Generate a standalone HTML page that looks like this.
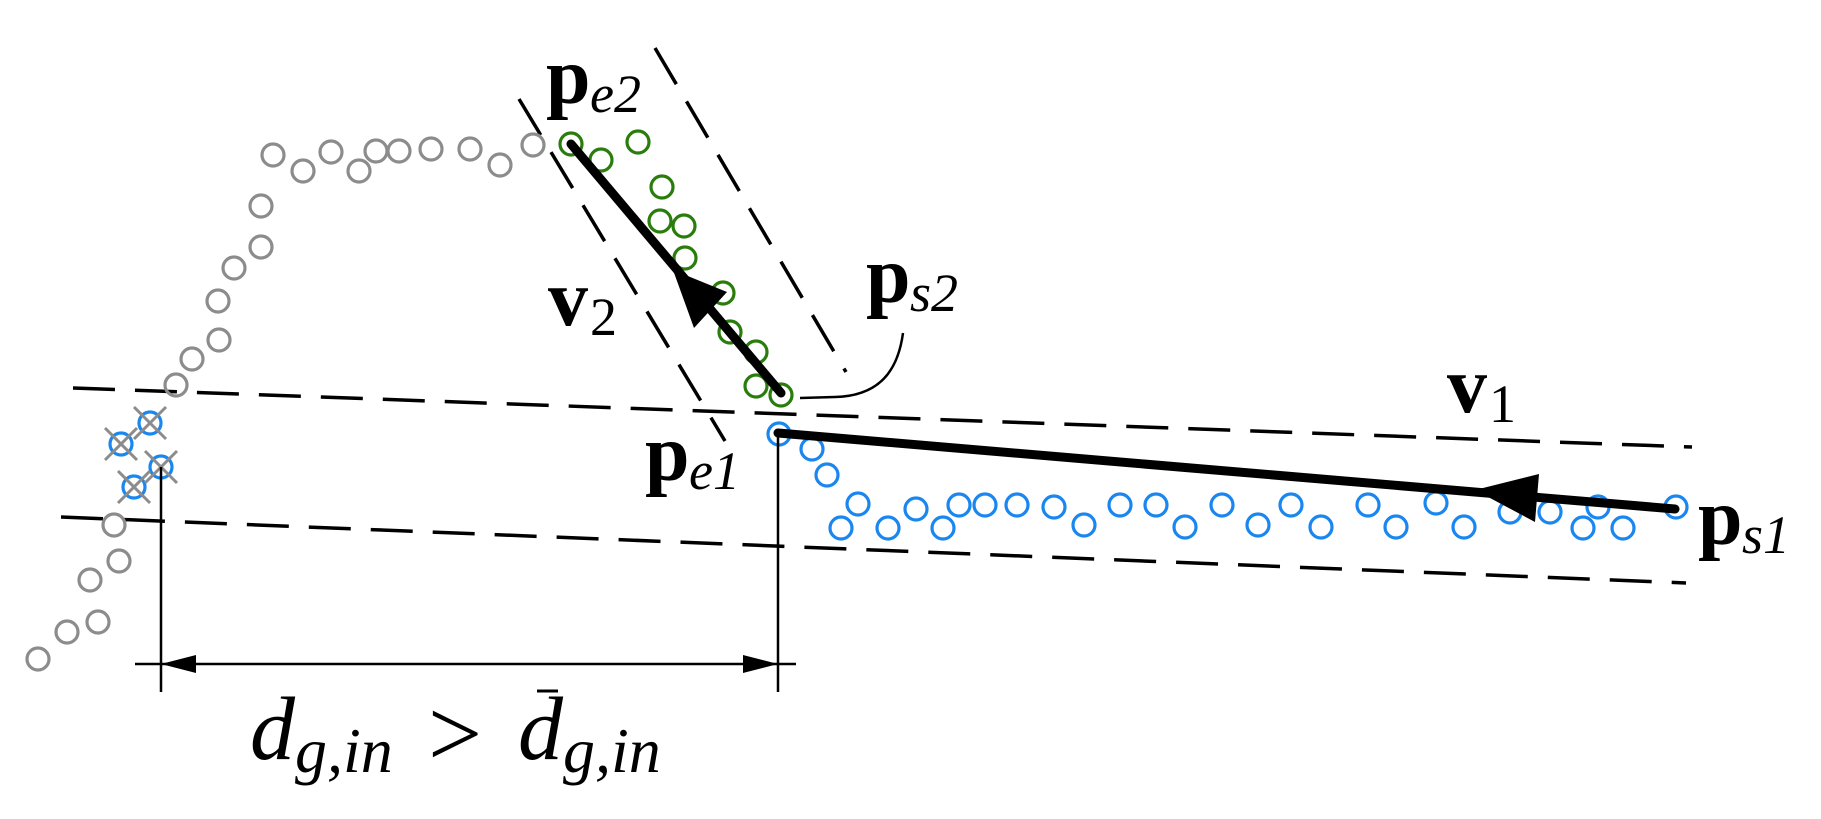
<!DOCTYPE html>
<html><head><meta charset="utf-8"><style>
html,body{margin:0;padding:0;background:#fff;}
svg{display:block;}
text{font-family:"Liberation Serif",serif;fill:#000;}
.b{font-weight:bold;}
.i{font-style:italic;}
</style></head><body>
<svg width="1821" height="819" viewBox="0 0 1821 819" xmlns="http://www.w3.org/2000/svg">
<!-- dashed band lines -->
<g stroke="#000" stroke-width="3.5" stroke-dasharray="42,20" fill="none">
<line x1="73" y1="388" x2="1692" y2="447"/>
<line x1="61" y1="517" x2="1686" y2="583"/>
<line x1="519" y1="99" x2="725" y2="441"/>
<line x1="655" y1="48" x2="846" y2="372"/>
</g>
<!-- gray circles -->
<g stroke="#8c8c8c" stroke-width="3.2" fill="none">
<circle cx="38" cy="659" r="11"/><circle cx="67" cy="632" r="11"/><circle cx="98" cy="622" r="11"/>
<circle cx="90" cy="580" r="11"/><circle cx="119" cy="561" r="11"/><circle cx="114" cy="525" r="11"/>
<circle cx="176" cy="385" r="11"/><circle cx="192" cy="359" r="11"/><circle cx="219" cy="340" r="11"/>
<circle cx="218" cy="301" r="11"/><circle cx="234" cy="268" r="11"/><circle cx="261" cy="247" r="11"/>
<circle cx="261" cy="206" r="11"/><circle cx="273" cy="155" r="11"/><circle cx="303" cy="171" r="11"/>
<circle cx="331" cy="152" r="11"/><circle cx="359" cy="171" r="11"/><circle cx="376" cy="151" r="11"/>
<circle cx="399" cy="151" r="11"/><circle cx="431" cy="149" r="11"/><circle cx="470" cy="149" r="11"/>
<circle cx="500" cy="165" r="11"/><circle cx="533" cy="145" r="11"/>
</g>
<!-- green circles -->
<g stroke="#2a7d0c" stroke-width="3.2" fill="none">
<circle cx="571" cy="144" r="11"/><circle cx="601" cy="160" r="11"/><circle cx="638" cy="142" r="11"/>
<circle cx="662" cy="187" r="11"/><circle cx="660" cy="221" r="11"/><circle cx="684" cy="226" r="11"/>
<circle cx="685" cy="258" r="11"/><circle cx="723" cy="293" r="11"/><circle cx="730" cy="332" r="11"/>
<circle cx="756" cy="352" r="11"/><circle cx="756" cy="386" r="11"/><circle cx="781" cy="395" r="11"/>
</g>
<!-- blue circles -->
<g stroke="#1a86f0" stroke-width="3.2" fill="none">
<circle cx="121" cy="444" r="11"/><circle cx="150" cy="423" r="11"/><circle cx="134" cy="487" r="11"/><circle cx="161" cy="467" r="11"/>
<circle cx="779" cy="434" r="11"/><circle cx="812" cy="449" r="11"/><circle cx="827" cy="475" r="11"/>
<circle cx="858" cy="504" r="11"/><circle cx="841" cy="528" r="11"/><circle cx="888" cy="528" r="11"/>
<circle cx="916" cy="509" r="11"/><circle cx="943" cy="528" r="11"/><circle cx="959" cy="505" r="11"/>
<circle cx="985" cy="505" r="11"/><circle cx="1017" cy="505" r="11"/><circle cx="1054" cy="507" r="11"/>
<circle cx="1084" cy="525" r="11"/><circle cx="1120" cy="505" r="11"/><circle cx="1156" cy="505" r="11"/>
<circle cx="1185" cy="527" r="11"/><circle cx="1222" cy="505" r="11"/><circle cx="1258" cy="525" r="11"/>
<circle cx="1291" cy="505" r="11"/><circle cx="1321" cy="527" r="11"/><circle cx="1368" cy="505" r="11"/>
<circle cx="1396" cy="527" r="11"/><circle cx="1436" cy="503" r="11"/><circle cx="1464" cy="527" r="11"/>
<circle cx="1510" cy="512" r="11"/><circle cx="1550" cy="512" r="11"/><circle cx="1583" cy="528" r="11"/>
<circle cx="1598" cy="507" r="11"/><circle cx="1623" cy="528" r="11"/><circle cx="1676" cy="507" r="11"/>
</g>
<!-- gray crosses -->
<g stroke="#8c8c8c" stroke-width="3">
<line x1="105" y1="428" x2="137" y2="460"/><line x1="105" y1="460" x2="137" y2="428"/>
<line x1="134" y1="407" x2="166" y2="439"/><line x1="134" y1="439" x2="166" y2="407"/>
<line x1="118" y1="471" x2="150" y2="503"/><line x1="118" y1="503" x2="150" y2="471"/>
<line x1="145" y1="451" x2="177" y2="483"/><line x1="145" y1="483" x2="177" y2="451"/>
</g>
<!-- vectors -->
<g stroke="#000" stroke-width="9" stroke-linecap="round">
<line x1="781" y1="393" x2="571" y2="144"/>
<line x1="1675" y1="509" x2="778" y2="433"/>
</g>
<polygon points="673,270 727,292 694,328" fill="#000"/>
<polygon points="1475,490 1539,474 1535,522" fill="#000"/>
<!-- p_s2 leader -->
<path d="M800,398 L835,397 C880,396 898,370 903,333" stroke="#000" stroke-width="2.5" fill="none"/>
<!-- dimension -->
<g stroke="#000" stroke-width="2.5">
<line x1="161" y1="467" x2="161" y2="692"/>
<line x1="778" y1="433" x2="778" y2="692"/>
<line x1="135" y1="664" x2="796" y2="664"/>
</g>
<polygon points="161,664 196,655 196,673" fill="#000"/>
<polygon points="778,664 743,655 743,673" fill="#000"/>
<!-- labels -->
<text x="546" y="103" font-size="80" class="b">p</text><text x="590" y="112" font-size="54" class="i">e2</text>
<text x="548" y="325" font-size="80" class="b">v</text><text x="590" y="335" font-size="54">2</text>
<text x="866" y="302" font-size="80" class="b">p</text><text x="910" y="311" font-size="54" class="i">s2</text>
<text x="1447" y="412" font-size="80" class="b">v</text><text x="1489" y="422" font-size="54">1</text>
<text x="645" y="480" font-size="80" class="b">p</text><text x="689" y="489" font-size="54" class="i">e1</text>
<text x="1698" y="544" font-size="80" class="b">p</text><text x="1742" y="553" font-size="54" class="i">s1</text>
<text x="250" y="759" font-size="90" class="i">d</text><text x="295" y="772" font-size="64" class="i">g,in</text>
<text x="428" y="766" font-size="96">&gt;</text>
<text x="518" y="759" font-size="90" class="i">d</text><text x="563" y="772" font-size="64" class="i">g,in</text>
<line x1="537" y1="691" x2="558" y2="691" stroke="#000" stroke-width="3"/>
</svg>
</body></html>
